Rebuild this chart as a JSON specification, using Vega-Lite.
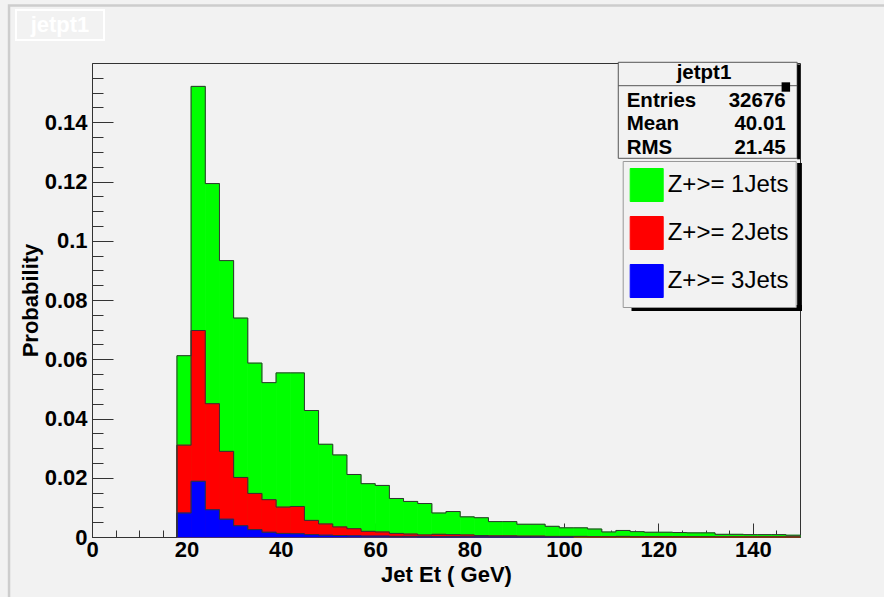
{
  "$schema": "https://vega.github.io/schema/vega-lite/v6.json",
  "width": 708,
  "height": 474,
  "autosize": {"type": "none"},
  "padding": {"left": 92, "top": 63, "right": 84, "bottom": 60},
  "background": "#f2f2f2",
  "config": {
    "font": "Liberation Sans",
    "view": {"stroke": "#333", "strokeWidth": 1},
    "axis": {
      "labelFont": "Liberation Sans", "labelFontWeight": "bold", "labelFontSize": 22, "labelColor": "#000",
      "titleFont": "Liberation Sans", "titleFontWeight": "bold", "titleFontSize": 22, "titleColor": "#000",
      "domainColor": "#333", "tickColor": "#333", "tickWidth": 1, "grid": false, "labelFlush": false, "labelOverlap": false, "zindex": 1
    }
  },
  "datasets": {
    "hist": [
      {"s":"Z+>= 1Jets","lo":18,"hi":21,"p":0.0612},{"s":"Z+>= 1Jets","lo":21,"hi":24,"p":0.1521},{"s":"Z+>= 1Jets","lo":24,"hi":27,"p":0.1193},{"s":"Z+>= 1Jets","lo":27,"hi":30,"p":0.0933},
      {"s":"Z+>= 1Jets","lo":30,"hi":33,"p":0.0739},{"s":"Z+>= 1Jets","lo":33,"hi":36,"p":0.0587},{"s":"Z+>= 1Jets","lo":36,"hi":39,"p":0.0521},{"s":"Z+>= 1Jets","lo":39,"hi":42,"p":0.0554},
      {"s":"Z+>= 1Jets","lo":42,"hi":45,"p":0.0554},{"s":"Z+>= 1Jets","lo":45,"hi":48,"p":0.0427},{"s":"Z+>= 1Jets","lo":48,"hi":51,"p":0.0313},{"s":"Z+>= 1Jets","lo":51,"hi":54,"p":0.0277},
      {"s":"Z+>= 1Jets","lo":54,"hi":57,"p":0.0211},{"s":"Z+>= 1Jets","lo":57,"hi":60,"p":0.0180},{"s":"Z+>= 1Jets","lo":60,"hi":63,"p":0.0174},{"s":"Z+>= 1Jets","lo":63,"hi":66,"p":0.0130},
      {"s":"Z+>= 1Jets","lo":66,"hi":69,"p":0.0120},{"s":"Z+>= 1Jets","lo":69,"hi":72,"p":0.0113},{"s":"Z+>= 1Jets","lo":72,"hi":75,"p":0.0081},{"s":"Z+>= 1Jets","lo":75,"hi":78,"p":0.0086},
      {"s":"Z+>= 1Jets","lo":78,"hi":81,"p":0.0068},{"s":"Z+>= 1Jets","lo":81,"hi":84,"p":0.0065},{"s":"Z+>= 1Jets","lo":84,"hi":87,"p":0.0052},{"s":"Z+>= 1Jets","lo":87,"hi":90,"p":0.0052},
      {"s":"Z+>= 1Jets","lo":90,"hi":93,"p":0.0043},{"s":"Z+>= 1Jets","lo":93,"hi":96,"p":0.0043},{"s":"Z+>= 1Jets","lo":96,"hi":99,"p":0.0036},{"s":"Z+>= 1Jets","lo":99,"hi":102,"p":0.0031},
      {"s":"Z+>= 1Jets","lo":102,"hi":105,"p":0.0031},{"s":"Z+>= 1Jets","lo":105,"hi":108,"p":0.0027},{"s":"Z+>= 1Jets","lo":108,"hi":111,"p":0.0017},{"s":"Z+>= 1Jets","lo":111,"hi":114,"p":0.0022},
      {"s":"Z+>= 1Jets","lo":114,"hi":117,"p":0.0018},{"s":"Z+>= 1Jets","lo":117,"hi":120,"p":0.0016},{"s":"Z+>= 1Jets","lo":120,"hi":123,"p":0.0016},{"s":"Z+>= 1Jets","lo":123,"hi":126,"p":0.0015},
      {"s":"Z+>= 1Jets","lo":126,"hi":129,"p":0.0014},{"s":"Z+>= 1Jets","lo":129,"hi":132,"p":0.0014},{"s":"Z+>= 1Jets","lo":132,"hi":135,"p":0.0009},{"s":"Z+>= 1Jets","lo":135,"hi":138,"p":0.0009},
      {"s":"Z+>= 1Jets","lo":138,"hi":141,"p":0.0008},{"s":"Z+>= 1Jets","lo":141,"hi":144,"p":0.0008},{"s":"Z+>= 1Jets","lo":144,"hi":147,"p":0.0008},{"s":"Z+>= 1Jets","lo":147,"hi":150,"p":0.0006},

      {"s":"Z+>= 2Jets","lo":18,"hi":21,"p":0.0310},{"s":"Z+>= 2Jets","lo":21,"hi":24,"p":0.0697},{"s":"Z+>= 2Jets","lo":24,"hi":27,"p":0.0450},{"s":"Z+>= 2Jets","lo":27,"hi":30,"p":0.0289},
      {"s":"Z+>= 2Jets","lo":30,"hi":33,"p":0.0201},{"s":"Z+>= 2Jets","lo":33,"hi":36,"p":0.0147},{"s":"Z+>= 2Jets","lo":36,"hi":39,"p":0.0126},{"s":"Z+>= 2Jets","lo":39,"hi":42,"p":0.0101},
      {"s":"Z+>= 2Jets","lo":42,"hi":45,"p":0.0103},{"s":"Z+>= 2Jets","lo":45,"hi":48,"p":0.0056},{"s":"Z+>= 2Jets","lo":48,"hi":51,"p":0.0044},{"s":"Z+>= 2Jets","lo":51,"hi":54,"p":0.0034},
      {"s":"Z+>= 2Jets","lo":54,"hi":57,"p":0.0028},{"s":"Z+>= 2Jets","lo":57,"hi":60,"p":0.0019},{"s":"Z+>= 2Jets","lo":60,"hi":63,"p":0.0017},{"s":"Z+>= 2Jets","lo":63,"hi":66,"p":0.0012},
      {"s":"Z+>= 2Jets","lo":66,"hi":69,"p":0.0010},{"s":"Z+>= 2Jets","lo":69,"hi":72,"p":0.0007},{"s":"Z+>= 2Jets","lo":72,"hi":75,"p":0.0009},{"s":"Z+>= 2Jets","lo":75,"hi":78,"p":0.0008},
      {"s":"Z+>= 2Jets","lo":78,"hi":81,"p":0.0007},{"s":"Z+>= 2Jets","lo":81,"hi":84,"p":0.0005},{"s":"Z+>= 2Jets","lo":84,"hi":87,"p":0.0004},{"s":"Z+>= 2Jets","lo":87,"hi":90,"p":0.0004},
      {"s":"Z+>= 2Jets","lo":90,"hi":93,"p":0.0003},{"s":"Z+>= 2Jets","lo":93,"hi":96,"p":0.0003},{"s":"Z+>= 2Jets","lo":96,"hi":99,"p":0.0002},{"s":"Z+>= 2Jets","lo":99,"hi":102,"p":0.0002},
      {"s":"Z+>= 2Jets","lo":102,"hi":105,"p":0.0002},{"s":"Z+>= 2Jets","lo":105,"hi":108,"p":0.0001},{"s":"Z+>= 2Jets","lo":108,"hi":111,"p":0.0001},{"s":"Z+>= 2Jets","lo":111,"hi":114,"p":0.0002},
      {"s":"Z+>= 2Jets","lo":114,"hi":117,"p":0.0001},{"s":"Z+>= 2Jets","lo":117,"hi":120,"p":0.0001},{"s":"Z+>= 2Jets","lo":120,"hi":123,"p":0.0001},{"s":"Z+>= 2Jets","lo":123,"hi":126,"p":0.0001},
      {"s":"Z+>= 2Jets","lo":126,"hi":129,"p":0.0001},{"s":"Z+>= 2Jets","lo":129,"hi":132,"p":0.0001},{"s":"Z+>= 2Jets","lo":132,"hi":135,"p":0.00005},{"s":"Z+>= 2Jets","lo":135,"hi":138,"p":0.00005},
      {"s":"Z+>= 2Jets","lo":138,"hi":141,"p":0.00005},{"s":"Z+>= 2Jets","lo":141,"hi":144,"p":0.00005},{"s":"Z+>= 2Jets","lo":144,"hi":147,"p":0.00005},{"s":"Z+>= 2Jets","lo":147,"hi":150,"p":0.00005},

      {"s":"Z+>= 3Jets","lo":18,"hi":21,"p":0.0081},{"s":"Z+>= 3Jets","lo":21,"hi":24,"p":0.0188},{"s":"Z+>= 3Jets","lo":24,"hi":27,"p":0.0092},{"s":"Z+>= 3Jets","lo":27,"hi":30,"p":0.0060},
      {"s":"Z+>= 3Jets","lo":30,"hi":33,"p":0.0038},{"s":"Z+>= 3Jets","lo":33,"hi":36,"p":0.0025},{"s":"Z+>= 3Jets","lo":36,"hi":39,"p":0.0016},{"s":"Z+>= 3Jets","lo":39,"hi":42,"p":0.0012},
      {"s":"Z+>= 3Jets","lo":42,"hi":45,"p":0.0011},{"s":"Z+>= 3Jets","lo":45,"hi":48,"p":0.0008},{"s":"Z+>= 3Jets","lo":48,"hi":51,"p":0.0006},{"s":"Z+>= 3Jets","lo":51,"hi":54,"p":0.0005},
      {"s":"Z+>= 3Jets","lo":54,"hi":57,"p":0.0004},{"s":"Z+>= 3Jets","lo":57,"hi":60,"p":0.0003},{"s":"Z+>= 3Jets","lo":60,"hi":63,"p":0.0003},{"s":"Z+>= 3Jets","lo":63,"hi":66,"p":0.0002},
      {"s":"Z+>= 3Jets","lo":66,"hi":69,"p":0.0002},{"s":"Z+>= 3Jets","lo":69,"hi":72,"p":0.0001},{"s":"Z+>= 3Jets","lo":72,"hi":75,"p":0.0001},{"s":"Z+>= 3Jets","lo":75,"hi":78,"p":0.0001},
      {"s":"Z+>= 3Jets","lo":78,"hi":81,"p":0.0001},{"s":"Z+>= 3Jets","lo":81,"hi":84,"p":0.0001},{"s":"Z+>= 3Jets","lo":84,"hi":87,"p":0.00005},{"s":"Z+>= 3Jets","lo":87,"hi":90,"p":0.00005},
      {"s":"Z+>= 3Jets","lo":90,"hi":93,"p":0.00005},{"s":"Z+>= 3Jets","lo":93,"hi":96,"p":0.00005},{"s":"Z+>= 3Jets","lo":96,"hi":99,"p":0.00005},{"s":"Z+>= 3Jets","lo":99,"hi":102,"p":0.00005}
    ]
  },
  "resolve": {"axis": {"x": "independent", "y": "independent"}},
  "layer": [
    {
      "data": {"values": [{}]},
      "mark": {"type": "rect", "fill": null, "stroke": "#cdcdcd", "strokeWidth": 2.5},
      "encoding": {
        "x": {"datum": -17.58, "type": "quantitative", "scale": {"domain": [0, 150], "nice": false, "zero": false}, "axis": null},
        "x2": {"datum": 190},
        "y": {"datum": 0.17941, "type": "quantitative", "scale": {"domain": [0, 0.16], "nice": false}, "axis": null},
        "y2": {"datum": -0.05}
      }
    },
    {
      "data": {"values": [{}]},
      "mark": {"type": "rect", "fill": null, "stroke": "#ffffff", "strokeWidth": 2},
      "encoding": {
        "x": {"datum": -16.1, "type": "quantitative", "axis": null},
        "x2": {"datum": 2.54},
        "y": {"datum": 0.17789, "type": "quantitative", "axis": null},
        "y2": {"datum": 0.16776}
      }
    },
    {
      "data": {"values": [{}]},
      "mark": {"type": "text", "text": "jetpt1", "color": "#ffffff", "font": "Liberation Sans", "fontWeight": "bold", "fontSize": 22, "align": "center", "baseline": "middle"},
      "encoding": {
        "x": {"datum": -6.78, "type": "quantitative", "axis": null},
        "y": {"datum": 0.17283, "type": "quantitative", "axis": null}
      }
    },
    {
      "data": {"name": "hist"},
      "mark": {"type": "rect", "strokeWidth": 0.8},
      "encoding": {
        "x": {"field": "lo", "type": "quantitative", "scale": {"domain": [0, 150], "nice": false, "zero": false},
              "axis": {"orient": "bottom", "values": [0, 20, 40, 60, 80, 100, 120, 140], "tickSize": -14, "labelPadding": 16, "title": "Jet Et ( GeV)", "titlePadding": 4}},
        "x2": {"field": "hi"},
        "y": {"field": "p", "type": "quantitative", "scale": {"domain": [0, 0.16], "nice": false},
              "axis": {"orient": "left", "values": [0, 0.02, 0.04, 0.06, 0.08, 0.1, 0.12, 0.14], "format": ".2~f", "tickSize": -21, "labelPadding": 26, "title": "Probability", "titlePadding": 2}},
        "y2": {"datum": 0},
        "color": {"field": "s", "type": "nominal",
                  "scale": {"domain": ["Z+>= 1Jets", "Z+>= 2Jets", "Z+>= 3Jets"], "range": ["#00ff00", "#ff0000", "#0000ff"]},
                  "legend": {"orient": "none", "legendX": 530.7, "legendY": 98, "title": null, "padding": 7,
                             "symbolType": "square", "symbolSize": 1089, "symbolStrokeColor": "#333", "symbolStrokeWidth": 1, "symbolOpacity": 1,
                             "labelFont": "Liberation Sans", "labelFontSize": 24, "labelColor": "#000", "labelOffset": 4, "labelBaseline": "middle",
                             "rowPadding": 10, "fillColor": "#f2f2f2", "strokeColor": "#999999"}},
        "stroke": {"field": "s", "type": "nominal",
                   "scale": {"domain": ["Z+>= 1Jets", "Z+>= 2Jets", "Z+>= 3Jets"], "range": ["#00ff00", "#ff0000", "#0000ff"]},
                   "legend": null}
      }
    },
    {
      "data": {"name": "hist"},
      "transform": [{"fold": ["lo", "hi"], "as": ["edge", "x"]}],
      "mark": {"type": "line", "color": "#333", "strokeWidth": 1},
      "encoding": {
        "x": {"field": "x", "type": "quantitative",
              "axis": {"orient": "bottom", "values": [5, 10, 15, 25, 30, 35, 45, 50, 55, 65, 70, 75, 85, 90, 95, 105, 110, 115, 125, 130, 135, 145], "labels": false, "tickSize": -7, "domain": false, "title": null}},
        "y": {"field": "p", "type": "quantitative",
              "axis": {"orient": "left", "values": [0.005, 0.01, 0.015, 0.025, 0.03, 0.035, 0.045, 0.05, 0.055, 0.065, 0.07, 0.075, 0.085, 0.09, 0.095, 0.105, 0.11, 0.115, 0.125, 0.13, 0.135, 0.145, 0.15, 0.155], "labels": false, "tickSize": -11, "domain": false, "title": null}},
        "detail": {"field": "s"},
        "order": [{"field": "x", "type": "quantitative"}, {"field": "edge", "type": "nominal"}]
      }
    },
    {
      "data": {"name": "hist"},
      "transform": [{"filter": {"field": "lo", "equal": 18}}],
      "mark": {"type": "rule", "color": "#333", "strokeWidth": 1},
      "encoding": {
        "x": {"field": "lo", "type": "quantitative", "axis": null},
        "y": {"field": "p", "type": "quantitative", "axis": null},
        "y2": {"datum": 0}
      }
    },
    {
      "data": {"values": [{}]},
      "mark": {"type": "rect", "fill": "#f2f2f2", "stroke": "#555", "strokeWidth": 1},
      "encoding": {
        "x": {"datum": 111.5, "type": "quantitative", "axis": null},
        "x2": {"datum": 149.4},
        "y": {"datum": 0.16024, "type": "quantitative", "axis": null},
        "y2": {"datum": 0.12783}
      }
    },
    {
      "data": {"values": [{}]},
      "mark": {"type": "rect", "fill": "#000"},
      "encoding": {
        "x": {"datum": 149.4, "type": "quantitative", "axis": null},
        "x2": {"datum": 150.04},
        "y": {"datum": 0.1595, "type": "quantitative", "axis": null},
        "y2": {"datum": 0.1275}
      }
    },
    {
      "data": {"values": [{}]},
      "mark": {"type": "rule", "color": "#555", "strokeWidth": 1},
      "encoding": {
        "x": {"datum": 111.5, "type": "quantitative", "axis": null},
        "x2": {"datum": 149.4},
        "y": {"datum": 0.15234, "type": "quantitative", "axis": null}
      }
    },
    {
      "data": {"values": [{}]},
      "mark": {"type": "text", "text": "jetpt1", "font": "Liberation Sans", "fontWeight": "bold", "fontSize": 20.5, "align": "center", "baseline": "alphabetic", "color": "#000"},
      "encoding": {
        "x": {"datum": 129.66, "type": "quantitative", "axis": null},
        "y": {"datum": 0.1546, "type": "quantitative", "axis": null}
      }
    },
    {
      "data": {"values": [{}]},
      "mark": {"type": "text", "text": ["Entries", "Mean", "RMS"], "lineHeight": 23.5, "font": "Liberation Sans", "fontWeight": "bold", "fontSize": 20.5, "align": "left", "baseline": "alphabetic", "color": "#000"},
      "encoding": {
        "x": {"datum": 113.28, "type": "quantitative", "axis": null},
        "y": {"datum": 0.14515, "type": "quantitative", "axis": null}
      }
    },
    {
      "data": {"values": [{}]},
      "mark": {"type": "text", "text": ["32676", "40.01", "21.45"], "lineHeight": 23.5, "font": "Liberation Sans", "fontWeight": "bold", "fontSize": 20.5, "align": "right", "baseline": "alphabetic", "color": "#000"},
      "encoding": {
        "x": {"datum": 146.97, "type": "quantitative", "axis": null},
        "y": {"datum": 0.14515, "type": "quantitative", "axis": null}
      }
    },
    {
      "data": {"values": [{}]},
      "mark": {"type": "rect", "fill": "#000"},
      "encoding": {
        "x": {"datum": 146.1, "type": "quantitative", "axis": null},
        "x2": {"datum": 147.9},
        "y": {"datum": 0.15348, "type": "quantitative", "axis": null},
        "y2": {"datum": 0.15031}
      }
    },
    {
      "data": {"values": [{}]},
      "mark": {"type": "rect", "fill": "#000"},
      "encoding": {
        "x": {"datum": 149.4, "type": "quantitative", "axis": null},
        "x2": {"datum": 150.4},
        "y": {"datum": 0.12624, "type": "quantitative", "axis": null},
        "y2": {"datum": 0.07629}
      }
    },
    {
      "data": {"values": [{}]},
      "mark": {"type": "rect", "fill": "#000"},
      "encoding": {
        "x": {"datum": 114.3, "type": "quantitative", "axis": null},
        "x2": {"datum": 150.4},
        "y": {"datum": 0.07831, "type": "quantitative", "axis": null},
        "y2": {"datum": 0.07629}
      }
    }
  ]
}
